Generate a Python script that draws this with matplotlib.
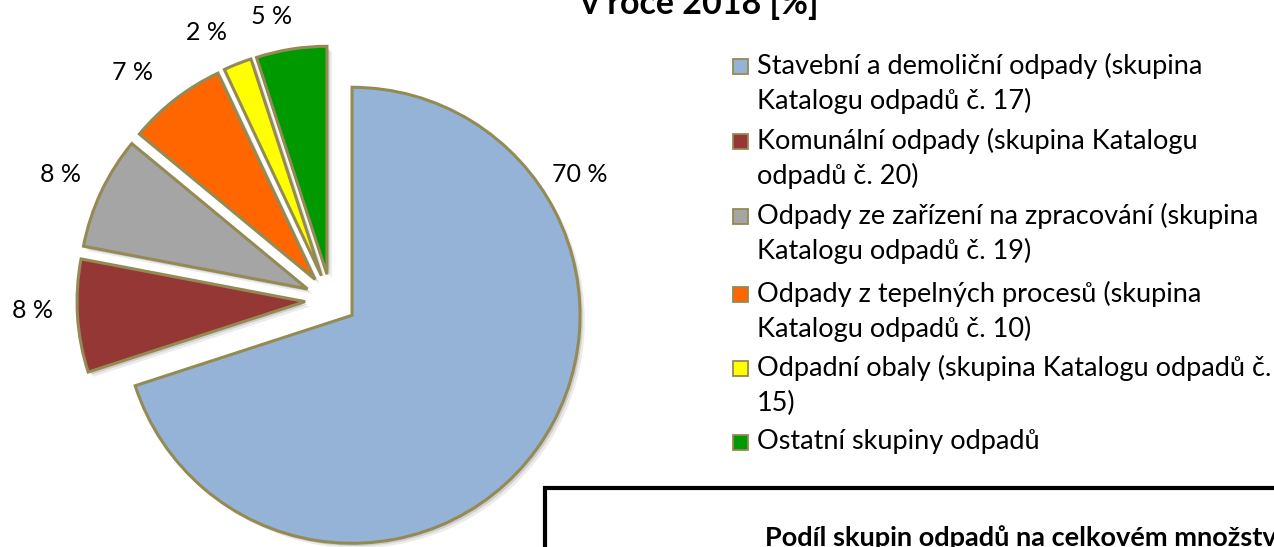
import matplotlib
matplotlib.use("Agg")
import matplotlib.pyplot as plt
from matplotlib.patches import Rectangle
import matplotlib.patheffects as pe

categories = [
    "Stavební a demoliční odpady (skupina\nKatalogu odpadů č. 17)",
    "Komunální odpady (skupina Katalogu\nodpadů č. 20)",
    "Odpady ze zařízení na zpracování (skupina\nKatalogu odpadů č. 19)",
    "Odpady z tepelných procesů (skupina\nKatalogu odpadů č. 10)",
    "Odpadní obaly (skupina Katalogu odpadů č.\n15)",
    "Ostatní skupiny odpadů",
]
values = [70, 8, 8, 7, 2, 5]
colors = ["#95B3D7", "#953735", "#A5A5A5", "#FF6600", "#FFFF00", "#009A00"]
value_labels = [f"{v} %" for v in values]
title_text = "v roce 2018 [%]"
box_text = "Podíl skupin odpadů na celkovém množství"

FONT = ["Lato", "DejaVu Sans"]
plt.rcParams["font.family"] = FONT

W, H = 1274, 547
fig = plt.figure(figsize=(W / 100, H / 100), dpi=100)
ax = fig.add_axes([0, 0, 1, 1])

edge = "#948A54"
R = 228
C = (331, H - 300)
explode_px = 26
wedges, _ = ax.pie(values, colors=colors, startangle=90, counterclock=False,
                   radius=R, center=C, explode=[explode_px] * len(values), frame=True,
                   wedgeprops=dict(edgecolor=edge, linewidth=2.2, joinstyle="miter"))
shadow = [pe.SimplePatchShadow(offset=(3.5, -3.5), shadow_rgbFace="k", alpha=0.08),
          pe.SimplePatchShadow(offset=(2, -2), shadow_rgbFace="k", alpha=0.12),
          pe.Normal()]
for w in wedges:
    w.set_path_effects(shadow)

ax.set_xlim(0, W)
ax.set_ylim(0, H)
ax.set_aspect("equal")
ax.axis("off")

# value labels (layout positions, pixel coords from top)
label_pos = [(580, 175), (32, 310), (61, 175), (133, 72), (207, 33), (272, 17)]
for txt, (x, y) in zip(value_labels, label_pos):
    ax.text(x, H - y, txt, ha="center", va="center", fontsize=18, color="black")

# legend
leg_x_box = 733
leg_x_txt = 757
first_line_y = [66, 141, 216, 294, 368, 442]
line_gap = 35
for cat, col, y0 in zip(categories, colors, first_line_y):
    ax.add_patch(Rectangle((leg_x_box, H - y0 - 8), 15, 15, facecolor=col,
                           edgecolor=edge, linewidth=1.3))
    for k, line in enumerate(cat.split("\n")):
        ax.text(leg_x_txt, H - (y0 + k * line_gap), line, ha="left", va="center",
                fontsize=19.5, color="black")

# title (partially cut at the top)
ax.text(700, H - 14, title_text, ha="center", va="baseline", fontsize=24.5,
        fontweight="bold", color="black")

# lower box
ax.add_patch(Rectangle((545, -100), 900, H - 488 + 100, facecolor="none",
                       edgecolor="black", linewidth=3))
ax.text(765, H - 546, box_text, ha="left", va="baseline", fontsize=19.5,
        fontweight="bold", color="black")

fig.savefig("out.png", dpi=100)
